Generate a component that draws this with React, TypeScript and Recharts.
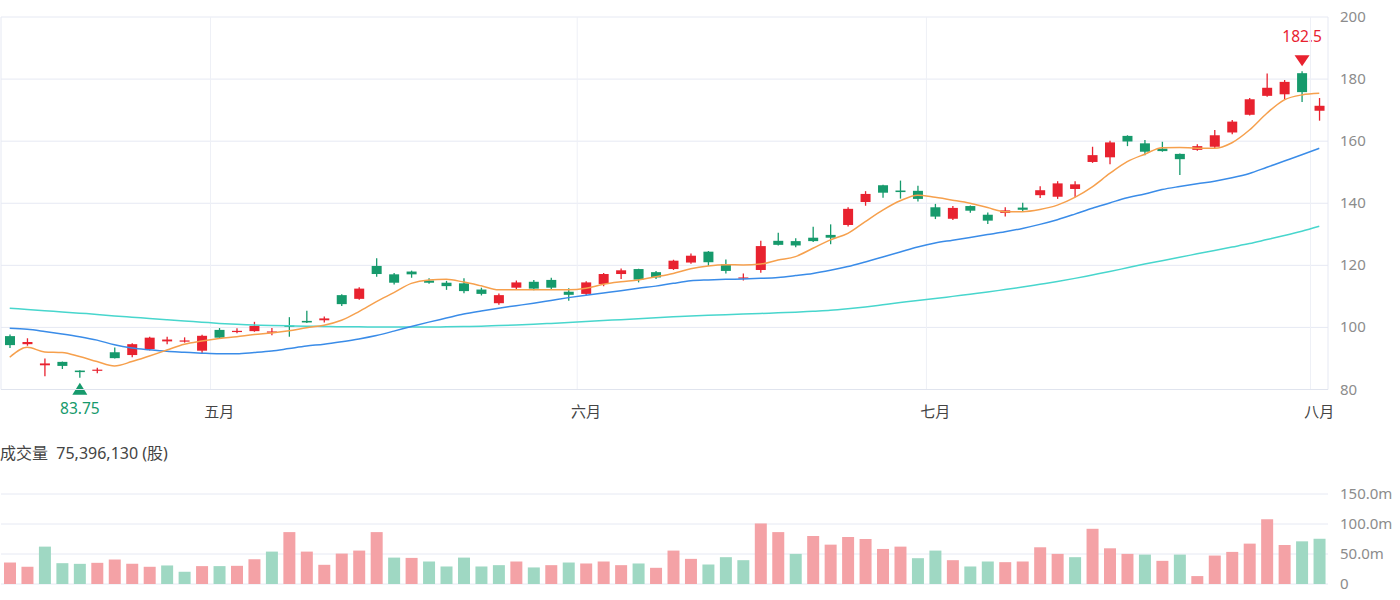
import React from 'react';
import {
  ComposedChart,
  Bar,
  Line,
  XAxis,
  YAxis,
  CartesianGrid,
  ReferenceLine,
  Cell,
} from 'recharts';

// Daily OHLC prices, mid-April to the first trading day of August
const openPrices = [
  97.2, 94.6, 87.8, 88.9, 86.1, 86.1, 92.0, 91.1, 93.0, 95.5, 95.6, 92.5,
  99.2, 98.5, 98.8, 98.5, 100.6, 102.1, 102.3, 110.4, 109.2, 119.8, 117.1, 118.0,
  115.1, 114.4, 114.2, 112.2, 107.8, 112.8, 114.7, 115.3, 111.5, 110.8, 114.0, 117.2,
  118.8, 117.8, 118.8, 120.9, 124.4, 120.4, 115.8, 118.5, 127.9, 127.8, 128.9, 129.8,
  133.0, 140.4, 145.8, 144.1, 144.0, 138.7, 135.0, 139.1, 136.3, 136.9, 138.6, 142.6,
  142.1, 144.6, 153.3, 154.8, 161.7, 159.3, 157.6, 155.9, 157.2, 158.2, 162.8, 168.5,
  174.6, 175.1, 181.9, 169.8,
];
const highPrices = [
  97.7, 96.5, 90.0, 89.0, 86.2, 87.0, 93.5, 94.9, 97.0, 97.0, 96.8, 97.6,
  99.8, 99.7, 101.8, 99.8, 103.3, 105.4, 103.5, 110.7, 112.9, 122.3, 117.5, 118.3,
  115.8, 115.0, 115.8, 112.8, 110.9, 115.1, 115.3, 116.0, 112.6, 114.9, 117.5, 119.0,
  118.9, 118.2, 121.8, 123.8, 124.6, 121.9, 117.4, 127.9, 130.5, 128.7, 132.4, 133.2,
  138.7, 143.9, 146.0, 147.3, 145.6, 139.8, 139.1, 139.3, 137.0, 138.7, 140.2, 145.5,
  147.1, 147.1, 158.2, 160.1, 161.9, 160.4, 159.8, 156.0, 159.0, 163.6, 166.8, 173.9,
  181.8, 179.7, 182.5, 173.9,
];
const lowPrices = [
  93.4, 94.1, 84.3, 86.6, 83.75, 85.2, 90.0, 90.4, 92.6, 94.6, 95.1, 91.7,
  96.5, 98.1, 98.6, 97.5, 97.0, 101.4, 101.6, 106.9, 108.9, 116.3, 113.8, 116.0,
  114.1, 112.1, 111.0, 110.3, 107.3, 112.3, 112.0, 112.3, 108.6, 110.4, 113.3, 115.6,
  114.5, 115.6, 118.5, 120.5, 119.8, 117.4, 115.1, 117.6, 126.4, 125.8, 127.5, 126.8,
  132.5, 139.2, 141.8, 141.5, 140.6, 134.9, 134.6, 136.9, 133.3, 135.7, 137.3, 141.7,
  141.4, 141.9, 153.0, 152.6, 158.4, 155.5, 156.6, 149.1, 156.9, 157.7, 162.2, 168.3,
  174.3, 173.5, 172.6, 166.6,
];
const closePrices = [
  94.3, 95.3, 88.4, 87.6, 85.6, 86.4, 90.1, 94.6, 96.7, 96.1, 95.8, 97.3,
  96.7, 98.9, 100.5, 98.7, 100.2, 101.6, 102.9, 107.5, 112.5, 117.2, 114.4, 117.1,
  114.4, 113.3, 111.7, 110.8, 110.4, 114.5, 112.5, 112.8, 110.5, 114.5, 117.2, 118.4,
  115.4, 116.1, 121.5, 123.1, 121.0, 118.2, 116.1, 126.2, 126.6, 126.4, 127.8, 128.9,
  138.2, 143.0, 143.4, 143.6, 141.4, 135.7, 138.5, 137.6, 134.4, 137.7, 137.9, 144.2,
  146.4, 146.1, 155.5, 159.6, 159.9, 156.6, 156.8, 154.2, 158.4, 161.9, 166.3, 173.5,
  177.2, 179.1, 175.8, 171.4,
];
// Close of the session before the first one shown
const priorClose = 93.8;

// Daily volume, millions of shares
const volumesM = [
  35.8, 28.7, 62.3, 34.7, 33.6, 35.3, 40.8, 33.6, 28.7, 30.9, 20.4, 29.8,
  29.8, 30.3, 41.3, 54.0, 86.5, 54.0, 32.0, 50.7, 55.7, 86.5, 44.0, 43.5,
  37.5, 29.2, 44.0, 29.2, 31.4, 37.5, 27.6, 31.4, 35.8, 34.2, 37.5, 31.4,
  34.2, 27.0, 55.7, 41.9, 32.5, 44.7, 39.7, 100.9, 86.5, 50.2, 80.0, 65.6,
  78.3, 75.0, 58.4, 62.3, 43.0, 55.7, 39.7, 29.2, 37.5, 36.4, 37.5, 61.2,
  50.2, 44.7, 92.0, 59.5, 50.2, 49.0, 38.6, 49.0, 13.2, 47.4, 53.5, 67.3,
  108.0, 65.0, 71.1, 75.39613,
];

// Moving averages (5, 20 and 60 sessions)
const ma5 = [
  90.4, 93.6, 92.1, 91.9, 90.6, 89.0, 87.6, 89.0, 90.8, 92.7, 94.6, 95.6,
  96.4, 97.0, 97.7, 98.2, 98.9, 99.9, 100.7, 102.3, 105.1, 108.3, 111.2, 114.2,
  115.3, 115.5, 114.6, 113.4, 112.1, 112.1, 112.1, 112.1, 112.1, 112.6, 113.9, 114.7,
  115.3, 116.3, 117.4, 118.9, 119.8, 120.2, 120.1, 120.4, 121.7, 122.8, 125.5, 128.2,
  130.3, 134.1, 137.8, 140.8, 142.6, 141.9, 141.0, 140.0, 138.6, 137.3, 137.3, 138.0,
  139.4, 141.9, 145.3, 149.6, 153.4, 155.8, 157.9, 158.0, 157.7, 157.7, 159.5, 163.6,
  169.0, 173.3, 174.9, 175.4,
];
const ma20 = [
  99.7, 99.4, 98.7, 97.9, 97.0, 95.9, 94.4, 93.4, 92.8, 92.3, 92.0, 91.7,
  91.5, 91.5, 91.9, 92.4, 93.2, 94.0, 94.6, 95.4, 96.3, 97.4, 98.8, 100.3,
  101.7, 103.0, 104.3, 105.3, 106.2, 107.0, 107.8, 108.7, 109.6, 110.4, 111.1, 111.8,
  112.6, 113.3, 114.2, 115.0, 115.3, 115.5, 115.6, 115.8, 116.1, 116.7, 117.4, 118.4,
  119.6, 121.1, 122.7, 124.3, 125.9, 127.2, 128.1, 129.0, 129.9, 130.8, 131.9, 133.2,
  134.7, 136.5, 138.4, 140.1, 141.8, 143.0, 144.4, 145.4, 146.3, 147.1, 148.2, 149.6,
  151.6, 153.6, 155.6, 157.7,
];
const ma60 = [
  106.2, 105.8, 105.4, 105.0, 104.6, 104.2, 103.7, 103.3, 102.9, 102.5, 102.1, 101.7,
  101.3, 101.0, 100.8, 100.6, 100.5, 100.4, 100.3, 100.2, 100.2, 100.1, 100.1, 100.1,
  100.1, 100.2, 100.3, 100.4, 100.6, 100.8, 101.0, 101.3, 101.6, 101.9, 102.2, 102.5,
  102.8, 103.1, 103.4, 103.7, 103.9, 104.1, 104.3, 104.5, 104.7, 104.9, 105.2, 105.5,
  106.0, 106.6, 107.3, 108.0, 108.7, 109.3, 110.0, 110.7, 111.4, 112.2, 113.0, 113.9,
  114.8, 115.8, 116.9, 118.0, 119.2, 120.4, 121.5, 122.6, 123.7, 124.8, 125.9, 127.0,
  128.3, 129.6, 131.0, 132.6,
];

// Month labels and the index of each month's first session
const monthLabels = ['五月', '六月', '七月', '八月'];
const monthStartIndex = [12, 33, 53, 75];

const priceTicks = [80, 100, 120, 140, 160, 180, 200];
const volumeTicks = [0, 50, 100, 150];

const UP = '#e8222f';
const DOWN = '#169a6c';
const VOL_UP = '#f4a2a6';
const VOL_DOWN = '#9fd8c3';
const MA5_COLOR = '#f6a04d';
const MA20_COLOR = '#3a8ce8';
const MA60_COLOR = '#48d6cd';
const GRID = '#e6e9f3';
const GRID_V = '#eef0f6';
const FONT = "'Noto Sans', 'Noto Sans CJK SC', sans-serif";

const data = openPrices.map((o, i) => ({
  i,
  open: o,
  high: highPrices[i],
  low: lowPrices[i],
  close: closePrices[i],
  range: [lowPrices[i], highPrices[i]],
  vol: volumesM[i],
  volUp: closePrices[i] >= (i === 0 ? priorClose : closePrices[i - 1]),
  ma5: ma5[i],
  ma20: ma20[i],
  ma60: ma60[i],
}));

const minLow = Math.min(...lowPrices);
const maxHigh = Math.max(...highPrices);
const minIdx = lowPrices.indexOf(minLow);
const maxIdx = highPrices.indexOf(maxHigh);

const lastVolume = Math.round(volumesM[volumesM.length - 1] * 1e6).toLocaleString('en-US');

function Candle(props: any) {
  const { x, y, width, height, payload, index } = props;
  if (x == null || y == null || !payload) return null;
  const top = Math.min(y, y + height);
  const span = Math.abs(height);
  const { open, high, low, close } = payload;
  const toPx = (v: number) => top + ((high - v) / (high - low)) * span;
  const up = close >= open;
  const color = up ? UP : DOWN;
  const cx = x + width / 2;
  const bodyTop = toPx(Math.max(open, close));
  const bodyBot = toPx(Math.min(open, close));
  const bodyH = Math.max(1.2, bodyBot - bodyTop);
  const bottom = top + span;
  return (
    <g>
      <line x1={cx} x2={cx} y1={top} y2={bottom} stroke={color} strokeWidth={1.3} />
      <rect x={x} y={bodyTop} width={width} height={bodyH} fill={color} />
      {index === maxIdx && (
        <g>
          <path
            d={`M${cx} ${top - 5} L${cx - 7.5} ${top - 16} L${cx + 7.5} ${top - 16} Z`}
            fill={UP}
          />
          <text x={cx} y={top - 29} textAnchor="middle" fill={UP} fontSize={15.5} fontFamily={FONT}>
            {String(high)}
          </text>
        </g>
      )}
      {index === minIdx && (
        <g>
          <path
            d={`M${cx} ${bottom + 5} L${cx - 7.5} ${bottom + 17} L${cx + 7.5} ${bottom + 17} Z`}
            fill={DOWN}
          />
          <text x={cx} y={bottom + 36} textAnchor="middle" fill={DOWN} fontSize={15.5} fontFamily={FONT}>
            {String(low)}
          </text>
        </g>
      )}
    </g>
  );
}

function MonthTick(props: any) {
  const { x, y, payload } = props;
  const k = monthStartIndex.indexOf(payload.value);
  if (k < 0) return null;
  return (
    <text x={x} y={y + 25} textAnchor="middle" fill="#444" fontSize={15} fontFamily={FONT}>
      {monthLabels[k]}
    </text>
  );
}

function PriceTick(props: any) {
  const { x, y, payload } = props;
  return (
    <text x={x} y={y} dy={5} textAnchor="start" fill="#8c8c8c" fontSize={15} fontFamily={FONT}>
      {payload.value}
    </text>
  );
}

function VolumeTick(props: any) {
  const { x, y, payload } = props;
  const v = payload.value as number;
  return (
    <text x={x} y={y} dy={5} textAnchor="start" fill="#8c8c8c" fontSize={15} fontFamily={FONT}>
      {v === 0 ? '0' : `${v.toFixed(1)}m`}
    </text>
  );
}

export default function App() {
  return (
    <div
      style={{
        position: 'absolute',
        left: 0,
        top: 0,
        width: 1400,
        height: 600,
        background: '#fff',
        fontFamily: FONT,
      }}
    >
      <ComposedChart
        width={1400}
        height={420}
        data={data}
        margin={{ top: 17, right: 0, bottom: 0, left: 1 }}
      >
        <CartesianGrid
          stroke={GRID}
          verticalCoordinatesGenerator={({ offset }: any) => [offset.left, offset.left + offset.width]}
        />
        <XAxis
          dataKey="i"
          type="category"
          height={30.5}
          interval={0}
          tickSize={0}
          tickLine={false}
          axisLine={{ stroke: '#e0e4ee' }}
          tick={<MonthTick />}
        />
        <YAxis
          orientation="right"
          domain={[80, 200]}
          ticks={priceTicks}
          width={72}
          tickSize={0}
          tickMargin={12}
          axisLine={false}
          tickLine={false}
          tick={<PriceTick />}
        />
        {monthStartIndex.map((idx) => (
          <ReferenceLine key={idx} x={idx} position="start" stroke={GRID_V} strokeWidth={1} />
        ))}
        <Line type="monotone" dataKey="ma60" stroke={MA60_COLOR} strokeWidth={1.5} dot={false} isAnimationActive={false} />
        <Line type="monotone" dataKey="ma20" stroke={MA20_COLOR} strokeWidth={1.5} dot={false} isAnimationActive={false} />
        <Line type="monotone" dataKey="ma5" stroke={MA5_COLOR} strokeWidth={1.5} dot={false} isAnimationActive={false} />
        <Bar dataKey="range" barSize={10} shape={(p: any) => <Candle {...p} />} isAnimationActive={false} />
      </ComposedChart>

      <div
        style={{
          position: 'absolute',
          left: 0,
          top: 442,
          fontSize: 16,
          lineHeight: '22px',
          color: '#444',
          whiteSpace: 'pre',
        }}
      >
        {`成交量  ${lastVolume} (股)`}
      </div>

      <div style={{ position: 'absolute', left: 0, top: 470 }}>
        <ComposedChart
          width={1400}
          height={130}
          data={data}
          margin={{ top: 24, right: 0, bottom: 16, left: 1 }}
        >
          <CartesianGrid stroke={GRID} vertical={false} />
          <XAxis dataKey="i" type="category" hide />
          <YAxis
            orientation="right"
            domain={[0, 150]}
            ticks={volumeTicks}
            width={72}
            tickSize={0}
            tickMargin={12}
            axisLine={false}
            tickLine={false}
            tick={<VolumeTick />}
          />
          <Bar dataKey="vol" barSize={12} isAnimationActive={false}>
            {data.map((d) => (
              <Cell key={d.i} fill={d.volUp ? VOL_UP : VOL_DOWN} />
            ))}
          </Bar>
        </ComposedChart>
      </div>
    </div>
  );
}
